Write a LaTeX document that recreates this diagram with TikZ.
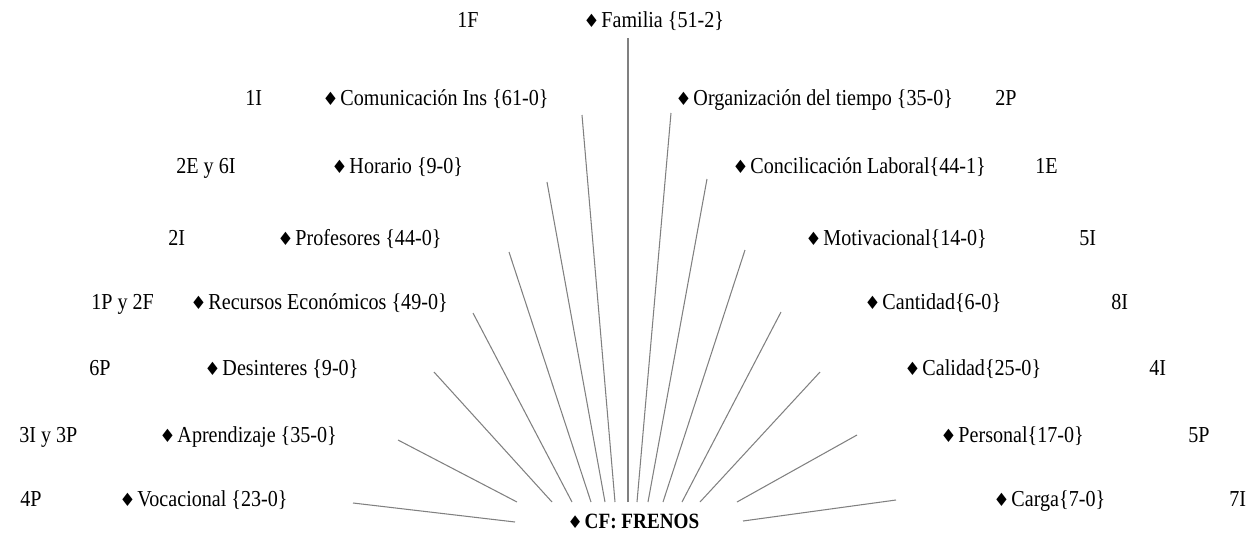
\documentclass[tikz,border=0pt]{standalone}
\usepackage{fontspec}
\setmainfont{Liberation Serif}[FakeStretch=0.88]
\newfontfamily\dingfont{DejaVu Sans}[Scale=0.8]
\newcommand{\dia}{{\dingfont ♦}\kern1pt}

\begin{document}
\begin{tikzpicture}[x=0.02cm, y=-0.02cm,
        lbl/.style={anchor=base west, inner sep=0pt, font=\fontsize{13}{15}\selectfont},
        rayo/.style={line width=0.6pt, black!50}]
        \useasboundingbox (0,0) rectangle (1249,535);

        % nodo central
        \node[lbl, font=\fontsize{12.4}{15}\selectfont\bfseries] (cf) at (567,528) {\dia CF: FRENOS};

        % categorías izquierda
        \node[lbl] (fam) at (583,27) {\dia Familia \{51-2\}};
        \node[lbl] (com) at (322,105) {\dia Comunicación Ins \{61-0\}};
        \node[lbl] (hor) at (331,173) {\dia Horario \{9-0\}};
        \node[lbl] (pro) at (277,245) {\dia Profesores \{44-0\}};
        \node[lbl] (rec) at (190,309) {\dia Recursos Económicos \{49-0\}};
        \node[lbl] (des) at (204,375) {\dia Desinteres \{9-0\}};
        \node[lbl] (apr) at (159,442) {\dia Aprendizaje \{35-0\}};
        \node[lbl] (voc) at (119,506) {\dia Vocacional \{23-0\}};

        % categorías derecha
        \node[lbl] (org) at (675,105) {\dia Organización del tiempo \{35-0\}};
        \node[lbl] (con) at (732,173) {\dia Concilicación Laboral\{44-1\}};
        \node[lbl] (mot) at (805,245) {\dia Motivacional\{14-0\}};
        \node[lbl] (can) at (864,309) {\dia Cantidad\{6-0\}};
        \node[lbl] (cal) at (904,375) {\dia Calidad\{25-0\}};
        \node[lbl] (per) at (940,442) {\dia Personal\{17-0\}};
        \node[lbl] (car) at (993,506) {\dia Carga\{7-0\}};

        % códigos
        \node[lbl] (n1f) at (457,27) {1F};
        \node[lbl] (n1i) at (245,105) {1I};
        \node[lbl] (n2e) at (176,173) {2E y 6I};
        \node[lbl] (n2i) at (168,245) {2I};
        \node[lbl] (n1p) at (91,309) {1P y 2F};
        \node[lbl] (n6p) at (89,375) {6P};
        \node[lbl] (n3i) at (19,442) {3I y 3P};
        \node[lbl] (n4p) at (20,506) {4P};
        \node[lbl] (n2p) at (995,105) {2P};
        \node[lbl] (n1e) at (1035,173) {1E};
        \node[lbl] (n5i) at (1079,245) {5I};
        \node[lbl] (n8i) at (1111,309) {8I};
        \node[lbl] (n4i) at (1149,375) {4I};
        \node[lbl] (n5p) at (1188,442) {5P};
        \node[lbl] (n7i) at (1229,506) {7I};

        % extremos de las líneas
        \coordinate (a-fam) at (628,502); \coordinate (b-fam) at (628,38);
        \coordinate (a-com) at (615,502); \coordinate (b-com) at (582,115);
        \coordinate (a-org) at (637,502); \coordinate (b-org) at (671,113);
        \coordinate (a-hor) at (605,502); \coordinate (b-hor) at (547,182);
        \coordinate (a-con) at (648,502); \coordinate (b-con) at (707,179);
        \coordinate (a-pro) at (591,502); \coordinate (b-pro) at (509,252);
        \coordinate (a-mot) at (663,502); \coordinate (b-mot) at (745,250);
        \coordinate (a-rec) at (572,502); \coordinate (b-rec) at (473,313);
        \coordinate (a-can) at (682,502); \coordinate (b-can) at (781,312);
        \coordinate (a-des) at (552,502); \coordinate (b-des) at (434,372);
        \coordinate (a-cal) at (700,502); \coordinate (b-cal) at (820,372);
        \coordinate (a-apr) at (517,502); \coordinate (b-apr) at (398,440);
        \coordinate (a-per) at (737,502); \coordinate (b-per) at (857,435);
        \coordinate (a-voc) at (515,522); \coordinate (b-voc) at (353,503);
        \coordinate (a-car) at (743,521); \coordinate (b-car) at (896,500);

        % líneas
        \draw[rayo] (a-fam) -- (b-fam);
        \draw[rayo] (a-com) -- (b-com);
        \draw[rayo] (a-org) -- (b-org);
        \draw[rayo] (a-hor) -- (b-hor);
        \draw[rayo] (a-con) -- (b-con);
        \draw[rayo] (a-pro) -- (b-pro);
        \draw[rayo] (a-mot) -- (b-mot);
        \draw[rayo] (a-rec) -- (b-rec);
        \draw[rayo] (a-can) -- (b-can);
        \draw[rayo] (a-des) -- (b-des);
        \draw[rayo] (a-cal) -- (b-cal);
        \draw[rayo] (a-apr) -- (b-apr);
        \draw[rayo] (a-per) -- (b-per);
        \draw[rayo] (a-voc) -- (b-voc);
        \draw[rayo] (a-car) -- (b-car);
    \end{tikzpicture}
\end{document}
